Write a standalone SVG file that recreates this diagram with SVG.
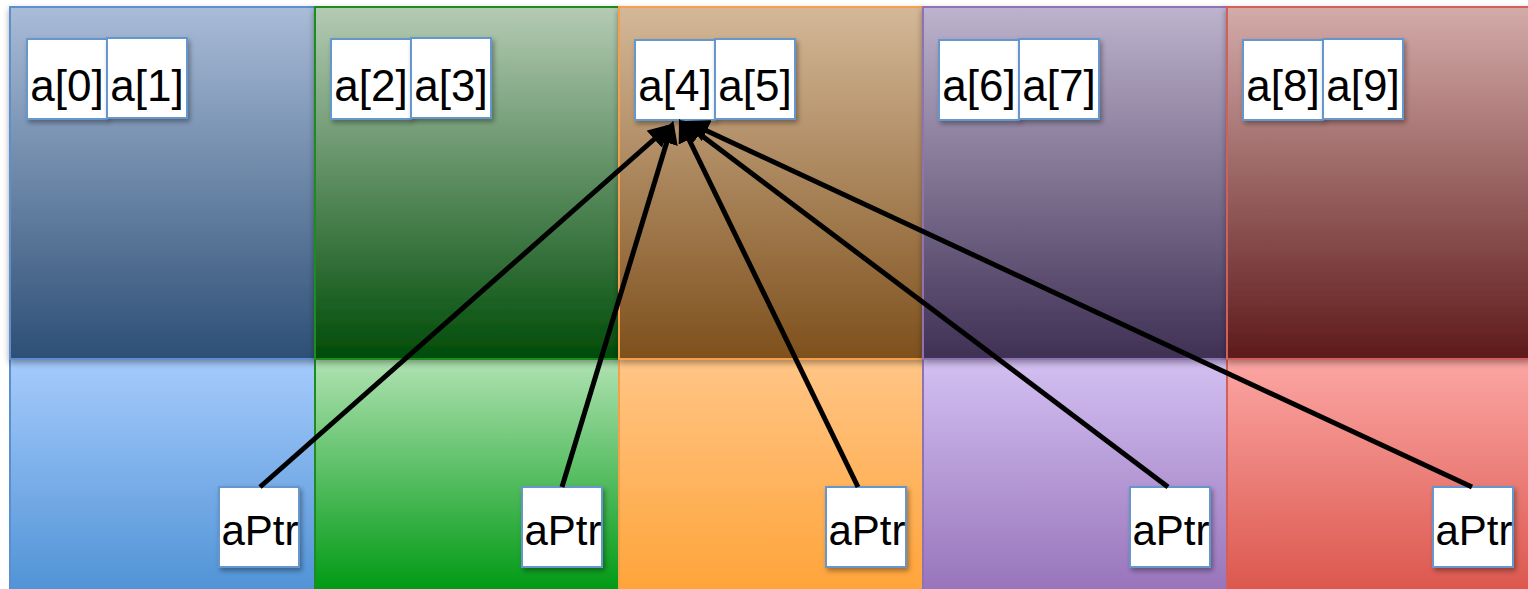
<svg xmlns="http://www.w3.org/2000/svg" width="1528" height="589" viewBox="0 0 1528 589">
<style>
.cell{fill:#fff;stroke:#6596cc;stroke-width:2;filter:url(#sh)}
.lbl{font-family:"Liberation Sans",Arial,sans-serif;font-size:44px;fill:#000;text-anchor:middle}
.ptr{font-size:42px}
.con{stroke:#000;stroke-width:5;fill:none;marker-end:url(#ah)}
</style>
<defs>
<filter id="sh" x="-10%" y="-10%" width="130%" height="130%"><feDropShadow dx="2" dy="3" stdDeviation="2.5" flood-color="#000" flood-opacity="0.35"/></filter>
<filter id="psh" x="-5%" y="-5%" width="110%" height="115%"><feDropShadow dx="0" dy="3" stdDeviation="3" flood-color="#000" flood-opacity="0.35"/></filter>
<marker id="ah" viewBox="0 0 10 10" refX="8" refY="5" markerWidth="4.6" markerHeight="4.6" orient="auto"><path d="M0,0 L10,5 L0,10 z" fill="#000"/></marker>
<linearGradient id="t1" x1="0" y1="0" x2="0" y2="1"><stop offset="0" stop-color="#a9bcd8"/><stop offset="1" stop-color="#2d4f75"/></linearGradient>
<linearGradient id="b1" x1="0" y1="0" x2="0" y2="1"><stop offset="0" stop-color="#a6cbfc"/><stop offset="1" stop-color="#5093d6"/></linearGradient>
<linearGradient id="t2" x1="0" y1="0" x2="0" y2="1"><stop offset="0" stop-color="#b4cbb4"/><stop offset="1" stop-color="#004c08"/></linearGradient>
<linearGradient id="b2" x1="0" y1="0" x2="0" y2="1"><stop offset="0" stop-color="#b0e2b2"/><stop offset="1" stop-color="#009a14"/></linearGradient>
<linearGradient id="t3" x1="0" y1="0" x2="0" y2="1"><stop offset="0" stop-color="#d4b898"/><stop offset="1" stop-color="#7e501c"/></linearGradient>
<linearGradient id="b3" x1="0" y1="0" x2="0" y2="1"><stop offset="0" stop-color="#ffc586"/><stop offset="1" stop-color="#ffa43a"/></linearGradient>
<linearGradient id="t4" x1="0" y1="0" x2="0" y2="1"><stop offset="0" stop-color="#bdb3cd"/><stop offset="1" stop-color="#3f3054"/></linearGradient>
<linearGradient id="b4" x1="0" y1="0" x2="0" y2="1"><stop offset="0" stop-color="#d3c0f2"/><stop offset="1" stop-color="#9874ba"/></linearGradient>
<linearGradient id="t5" x1="0" y1="0" x2="0" y2="1"><stop offset="0" stop-color="#d3aba9"/><stop offset="1" stop-color="#5e1a1a"/></linearGradient>
<linearGradient id="b5" x1="0" y1="0" x2="0" y2="1"><stop offset="0" stop-color="#fca6a4"/><stop offset="1" stop-color="#db574d"/></linearGradient>
</defs>
<rect width="1528" height="589" fill="#fff"/>
<g id="col1">
<rect x="10" y="359" width="305" height="232" fill="url(#b1)" stroke="#5b8ed0" stroke-width="2"/>
<rect x="10" y="7" width="305" height="352" fill="url(#t1)" stroke="#5b8ed0" stroke-width="2" filter="url(#psh)"/>
</g>
<g id="col2">
<rect x="315" y="359" width="304" height="232" fill="url(#b2)" stroke="#1e8c1e" stroke-width="2"/>
<rect x="315" y="7" width="304" height="352" fill="url(#t2)" stroke="#1e8c1e" stroke-width="2" filter="url(#psh)"/>
</g>
<g id="col3">
<rect x="619" y="359" width="304" height="232" fill="url(#b3)" stroke="#f7a04c" stroke-width="2"/>
<rect x="619" y="7" width="304" height="352" fill="url(#t3)" stroke="#f7a04c" stroke-width="2" filter="url(#psh)"/>
</g>
<g id="col4">
<rect x="923" y="359" width="304" height="232" fill="url(#b4)" stroke="#8f72b6" stroke-width="2"/>
<rect x="923" y="7" width="304" height="352" fill="url(#t4)" stroke="#8f72b6" stroke-width="2" filter="url(#psh)"/>
</g>
<g id="col5">
<rect x="1227" y="359" width="304" height="232" fill="url(#b5)" stroke="#d35f5a" stroke-width="2"/>
<rect x="1227" y="7" width="304" height="352" fill="url(#t5)" stroke="#d35f5a" stroke-width="2" filter="url(#psh)"/>
</g>
<g id="a0"><rect class="cell" x="27" y="39" width="80" height="80"/><text class="lbl" x="67" y="101">a[0]</text></g>
<g id="a1"><rect class="cell" x="107" y="38" width="80" height="80"/><text class="lbl" x="147" y="101">a[1]</text></g>
<g id="a2"><rect class="cell" x="331" y="39" width="80" height="80"/><text class="lbl" x="371" y="101">a[2]</text></g>
<g id="a3"><rect class="cell" x="411" y="38" width="80" height="80"/><text class="lbl" x="451" y="101">a[3]</text></g>
<g id="a4"><rect class="cell" x="635" y="40" width="80" height="80"/><text class="lbl" x="675" y="101">a[4]</text></g>
<g id="a5"><rect class="cell" x="715" y="39" width="80" height="80"/><text class="lbl" x="755" y="101">a[5]</text></g>
<g id="a6"><rect class="cell" x="939" y="40" width="80" height="80"/><text class="lbl" x="979" y="101">a[6]</text></g>
<g id="a7"><rect class="cell" x="1019" y="39" width="80" height="80"/><text class="lbl" x="1059" y="101">a[7]</text></g>
<g id="a8"><rect class="cell" x="1243" y="40" width="80" height="80"/><text class="lbl" x="1283" y="101">a[8]</text></g>
<g id="a9"><rect class="cell" x="1323" y="39" width="80" height="80"/><text class="lbl" x="1363" y="101">a[9]</text></g>
<g id="p1"><rect class="cell" x="219" y="487" width="80" height="80"/><text class="lbl ptr" x="260" y="545">aPtr</text></g>
<g id="p2"><rect class="cell" x="522" y="487" width="80" height="80"/><text class="lbl ptr" x="563" y="545">aPtr</text></g>
<g id="p3"><rect class="cell" x="826" y="487" width="80" height="80"/><text class="lbl ptr" x="867" y="545">aPtr</text></g>
<g id="p4"><rect class="cell" x="1130" y="487" width="80" height="80"/><text class="lbl ptr" x="1171" y="545">aPtr</text></g>
<g id="p5"><rect class="cell" x="1433" y="487" width="80" height="80"/><text class="lbl ptr" x="1474" y="545">aPtr</text></g>
<g id="connectors">
<line class="con" x1="260" y1="487" x2="668" y2="127"/>
<line class="con" x1="562" y1="487" x2="672" y2="125"/>
<line class="con" x1="858" y1="487" x2="681" y2="123"/>
<line class="con" x1="1168" y1="487" x2="685" y2="123"/>
<line class="con" x1="1472" y1="487" x2="690" y2="123"/>
</g>
</svg>
